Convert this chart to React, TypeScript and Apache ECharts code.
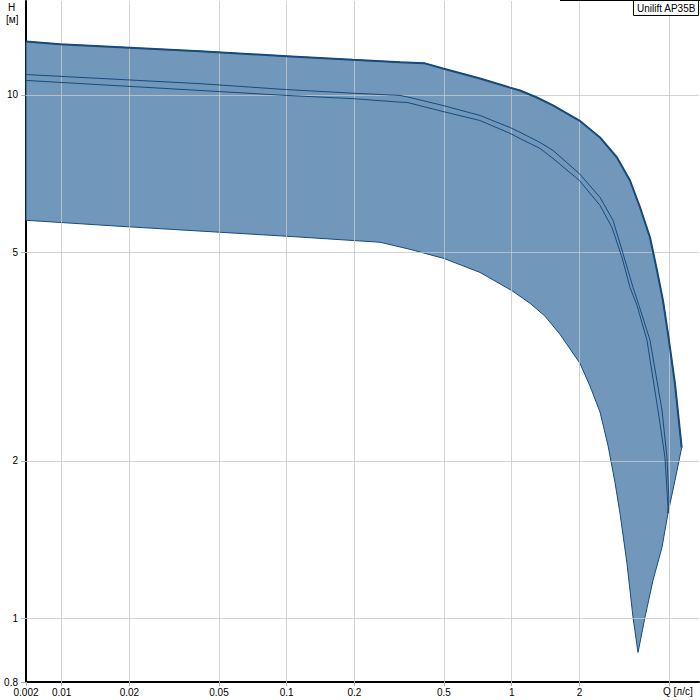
import React, { useEffect, useRef } from "react";
import * as echarts from "echarts";

const X_MIN = 0.00694;
const X_MAX = 6.8;
const Y_MIN = 0.757;
const Y_MAX = 15.1;

const xTickValues = [X_MIN, 0.01, 0.02, 0.05, 0.1, 0.2, 0.5, 1, 2, 5];
const xTickLabels = ["0.002", "0.01", "0.02", "0.05", "0.1", "0.2", "0.5", "1", "2", ""];
const yTickValues = [Y_MIN, 1, 2, 5, 10];
const yTickLabels = ["0.8", "1", "2", "5", "10"];
const xGridValues = [0.01, 0.02, 0.05, 0.1, 0.2, 0.5, 1, 2, 5];
const yGridValues = [1, 2, 5, 10];

// band: upper edge (left -> right)
const upperQ = [0.00694, 0.00983, 0.0412, 0.1, 0.197, 0.319, 0.412, 0.495, 0.723, 0.983, 1.089, 1.295, 1.526, 2.0, 2.469, 2.938, 3.356, 3.718, 4.119, 4.424, 4.703, 4.951, 5.318, 5.695];
const upperH = [12.64, 12.49, 12.11, 11.85, 11.66, 11.54, 11.48, 11.22, 10.74, 10.32, 10.19, 9.88, 9.54, 8.93, 8.29, 7.59, 6.86, 6.10, 5.34, 4.62, 4.05, 3.50, 2.81, 2.12];
// band: right edge (peak -> tip)
const rightQ = [5.318, 4.951, 4.656, 4.246, 3.912, 3.643];
const rightH = [1.836, 1.589, 1.368, 1.183, 1.006, 0.862];
// band: lower edge (tip -> left)
const lowerQ = [3.461, 3.254, 3.03, 2.878, 2.68, 2.469, 2.228, 2.012, 1.639, 1.406, 1.206, 1.0, 0.723, 0.5, 0.353, 0.26, 0.1, 0.01816, 0.00694];
const lowerH = [1.006, 1.275, 1.589, 1.82, 2.14, 2.48, 2.78, 3.07, 3.49, 3.78, 4.00, 4.23, 4.58, 4.87, 5.07, 5.23, 5.37, 5.61, 5.76];

// curve A
const curveAQ = [0.00694, 0.0412, 0.1, 0.197, 0.319, 0.353, 0.495, 0.723, 0.983, 1.089, 1.336, 1.526, 2.0, 2.469, 2.82, 3.124, 3.461, 3.68, 4.119, 4.656, 4.9, 5.0, 4.951];
const curveAH = [10.93, 10.50, 10.23, 10.07, 9.97, 9.88, 9.54, 9.13, 8.66, 8.48, 8.11, 7.83, 7.07, 6.37, 5.76, 4.98, 4.29, 3.96, 3.40, 2.50, 2.03, 1.682, 1.589];
// curve B
const curveBQ = [0.00694, 0.0412, 0.1, 0.197, 0.319, 0.3425, 0.495, 0.723, 0.983, 1.089, 1.336, 1.526, 2.0, 2.469, 2.792, 3.093, 3.356, 3.606, 3.993, 4.469, 4.801, 4.951, 4.951];
const curveBH = [10.65, 10.19, 9.97, 9.83, 9.68, 9.67, 9.29, 8.93, 8.44, 8.25, 7.90, 7.56, 6.86, 6.15, 5.58, 4.89, 4.29, 3.96, 3.40, 2.50, 2.03, 1.631, 1.589];

const FILL = "#7198bb";
const EDGE = "#174b7c";
const FONT = "Liberation Sans, Arial, sans-serif";

const zip = (q: number[], h: number[]) => q.map((v, i) => [v, h[i]]);

const labelFor = (vals: number[], labels: string[]) => (v: number) => {
  const i = vals.findIndex((t) => Math.abs(t - v) / t < 1e-4);
  return i >= 0 ? labels[i] : "";
};

export default function App() {
  const ref = useRef<HTMLDivElement>(null);
  useEffect(() => {
    const chart = echarts.init(ref.current!, null, { renderer: "svg" });
    const bandQ = [...upperQ, ...rightQ, ...lowerQ];
    const bandH = [...upperH, ...rightH, ...lowerH];
    const option: any = {
      animation: false,
      textStyle: { fontFamily: FONT },
      grid: { left: 26, right: 1, top: 1, bottom: 18, containLabel: false },
      xAxis: {
        type: "log",
        logBase: 10,
        min: X_MIN,
        max: X_MAX,
        axisLine: { show: true, onZero: false, lineStyle: { color: "#000", width: 2 } },
        axisTick: { show: true, customValues: xTickValues, length: 4, lineStyle: { color: "#b0b0b0" } },
        axisLabel: {
          customValues: xTickValues,
          formatter: labelFor(xTickValues, xTickLabels),
          color: "#000",
          fontSize: 10,
          fontFamily: FONT,
          margin: 5,
          showMinLabel: true,
          showMaxLabel: true,
        },
        splitLine: { show: false },
      },
      yAxis: {
        type: "log",
        logBase: 10,
        min: Y_MIN,
        max: Y_MAX,
        axisLine: { show: true, onZero: false, lineStyle: { color: "#000", width: 2 } },
        axisTick: { show: true, customValues: yTickValues, length: 5, lineStyle: { color: "#b0b0b0" } },
        axisLabel: {
          customValues: yTickValues,
          formatter: labelFor(yTickValues, yTickLabels),
          color: "#000",
          fontSize: 10,
          fontFamily: FONT,
          margin: 8,
          showMinLabel: true,
          showMaxLabel: true,
        },
        splitLine: { show: false },
      },
      series: [
        {
          type: "custom",
          z: 2,
          silent: true,
          data: [[bandQ[0], bandH[0]]],
          encode: { x: 0, y: 1 },
          renderItem: (_params: any, api: any) => {
            const pts = bandQ.map((q, i) => api.coord([q, bandH[i]]));
            return {
              type: "polygon",
              shape: { points: pts },
              style: { fill: FILL, stroke: EDGE, lineWidth: 1 },
            };
          },
        },
        {
          type: "line",
          z: 3,
          data: [],
          silent: true,
          markLine: {
            z: 3,
            silent: true,
            symbol: ["none", "none"],
            label: { show: false },
            lineStyle: { color: "rgba(200,200,200,0.8)", width: 1, type: "solid" },
            data: [
              ...xGridValues.map((v) => ({ xAxis: v })),
              ...yGridValues.map((v) => ({ yAxis: v })),
            ],
          },
        },
        {
          type: "line",
          z: 6,
          silent: true,
          symbol: "none",
          data: zip(upperQ, upperH),
          lineStyle: { color: EDGE, width: 2 },
        },
        {
          type: "line",
          z: 6,
          silent: true,
          symbol: "none",
          data: zip(curveAQ, curveAH),
          lineStyle: { color: EDGE, width: 1 },
        },
        {
          type: "line",
          z: 6,
          silent: true,
          symbol: "none",
          data: zip(curveBQ, curveBH),
          lineStyle: { color: EDGE, width: 1 },
        },
      ],
      graphic: [
        { type: "text", left: 8, top: 2, style: { text: "H", fontSize: 10, fontFamily: FONT, fill: "#000" } },
        { type: "text", left: 6, top: 14, style: { text: "[м]", fontSize: 10, fontFamily: FONT, fill: "#000" } },
        { type: "text", left: 663, top: 686, style: { text: "Q [л/с]", fontSize: 10, fontFamily: FONT, fill: "#000" } },
        { type: "line", shape: { x1: 560, y1: 0.5, x2: 700, y2: 0.5 }, style: { stroke: "#000", lineWidth: 1 } },
        {
          type: "rect",
          shape: { x: 633.5, y: 0.5, width: 65, height: 15 },
          style: { fill: "#fff", stroke: "#000", lineWidth: 1 },
          z: 10,
        },
        {
          type: "text",
          x: 637,
          y: 3,
          z: 11,
          style: { text: "Unilift AP35B", fontSize: 10, fontFamily: FONT, fill: "#000" },
        },
      ],
    };
    chart.setOption(option);
    return () => chart.dispose();
  }, []);
  return (
    <div
      ref={ref}
      style={{ width: 700, height: 700, position: "absolute", left: 0, top: 0 }}
    />
  );
}
